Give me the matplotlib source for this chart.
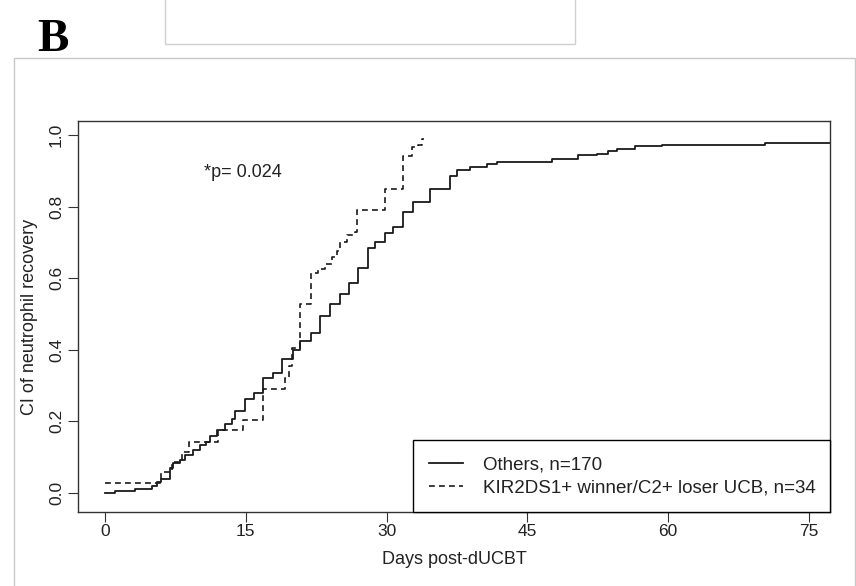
import matplotlib
matplotlib.use("Agg")
import matplotlib.pyplot as plt
from matplotlib.patches import Rectangle

plt.rcParams['font.family'] = ['Liberation Sans', 'DejaVu Sans']

# ---- data ----
times_others = [0, 1.1, 3.2, 5.0, 5.5, 6.0, 6.9, 7.2, 8.0, 8.5, 9.4, 10.1, 10.8, 11.2, 11.9,
                12.8, 13.5, 13.8, 14.9, 15.9, 16.8, 17.9, 18.9, 20.0, 20.8, 21.9, 22.9, 24.0,
                25.0, 26.0, 27.0, 28.0, 28.8, 29.8, 30.7, 31.8, 32.8, 34.6, 36.8, 37.5, 38.9,
                40.7, 41.8, 47.6, 50.4, 52.4, 53.6, 54.6, 56.5, 59.4, 70.3, 77.3]
ci_others = [0.0, 0.006, 0.012, 0.02, 0.03, 0.04, 0.07, 0.083, 0.092, 0.105, 0.12, 0.133, 0.142,
             0.16, 0.175, 0.194, 0.208, 0.23, 0.263, 0.278, 0.32, 0.336, 0.375, 0.40, 0.425,
             0.447, 0.494, 0.527, 0.555, 0.586, 0.628, 0.683, 0.70, 0.725, 0.744, 0.786, 0.814,
             0.85, 0.885, 0.903, 0.91, 0.92, 0.925, 0.932, 0.944, 0.948, 0.955, 0.96, 0.969,
             0.973, 0.978, 0.978]

times_kir = [0, 6.0, 7.1, 8.2, 8.9, 12.0, 14.7, 16.8, 19.2, 19.6, 19.9, 20.8, 21.9, 22.7, 23.4,
             24.2, 24.7, 25.0, 25.8, 26.6, 26.8, 29.8, 31.7, 32.7, 33.3, 33.8, 34.0]
ci_kir = [0.028, 0.058, 0.086, 0.114, 0.142, 0.175, 0.203, 0.29, 0.32, 0.355, 0.405, 0.527,
          0.614, 0.625, 0.64, 0.66, 0.675, 0.70, 0.72, 0.73, 0.79, 0.85, 0.94, 0.967, 0.972,
          0.99, 0.99]

x_ticks = [0, 15, 30, 45, 60, 75]
y_ticks = [0.0, 0.2, 0.4, 0.6, 0.8, 1.0]
y_tick_labels = ["0.0", "0.2", "0.4", "0.6", "0.8", "1.0"]
label_others = "Others, n=170"
label_kir = "KIR2DS1+ winner/C2+ loser UCB, n=34"
p_text = "*p= 0.024"

# ---- figure ----
W, H = 856, 586
fig = plt.figure(figsize=(W / 100, H / 100), dpi=100)
fig.patch.set_facecolor('white')

# outer panel frame and faint box from above panel
fig.add_artist(Rectangle((14 / W, -0.01), (855 - 14) / W, (586 - 58) / H + 0.01,
                         transform=fig.transFigure, fill=False, edgecolor='#c8c8c8', lw=1.0))
fig.add_artist(Rectangle((165 / W, 1 - 44 / H), 410 / W, 44 / H + 0.02,
                         transform=fig.transFigure, fill=False, edgecolor='#cfcfcf', lw=1.0))
fig.text(37 / W, 1 - 51 / H, "B", fontsize=34, fontweight='bold',
         family=['Liberation Serif', 'DejaVu Serif'], va='baseline', ha='left')

ax = fig.add_axes([78 / W, 1 - 512 / H, (830 - 78) / W, (512 - 121) / H])
line_color = '#1a1a1a'
ax.step(times_others, ci_others, where='post', color=line_color, lw=1.3, label=label_others)
ax.step(times_kir, ci_kir, where='post', color=line_color, lw=1.2, linestyle=(0, (3.5, 2.5)),
        label=label_kir)

ax.set_xlim(-2.88, 77.25)
ax.set_ylim(-0.053, 1.039)
ax.set_xticks(x_ticks)
ax.set_xticklabels([str(t) for t in x_ticks])
ax.set_yticks(y_ticks)
ax.set_yticklabels(y_tick_labels)
for s in ax.spines.values():
    s.set_color('#333333')
    s.set_linewidth(1.0)
ax.tick_params(direction='out', length=7, width=0.8, color='#333333', labelsize=12.5,
               labelcolor='#222222')
ax.tick_params(axis='x', pad=2)
ax.tick_params(axis='y', pad=3, labelrotation=90)
for lab in ax.get_yticklabels():
    lab.set_va('center')

ax.set_xlabel("Days post-dUCBT", fontsize=13, color='#222222', labelpad=8)
ax.set_ylabel("CI of neutrophil recovery", fontsize=13, color='#222222', labelpad=8)

ax.text(10.5, 0.895, p_text, fontsize=13, color='#222222', ha='left', va='center')

leg = ax.legend(loc='lower left', bbox_to_anchor=(0.4455, 0.0, 0.5545, 0.189), mode='expand',
                frameon=True, fancybox=False, edgecolor='black', framealpha=1,
                borderaxespad=0, handlelength=1.8, handletextpad=1.1, fontsize=13.5,
                borderpad=0.85, labelspacing=0.3)
leg.get_frame().set_linewidth(1.0)
for t in leg.get_texts():
    t.set_color('#222222')

fig.savefig("out.png", dpi=100, facecolor='white')
